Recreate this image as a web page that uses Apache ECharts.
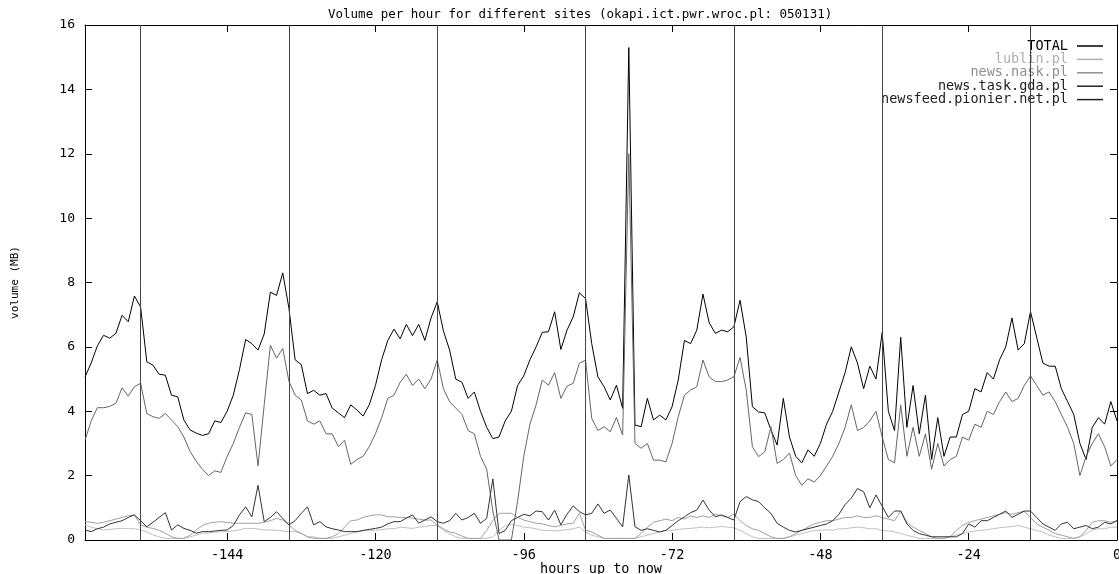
<!DOCTYPE html>
<html>
<head>
<meta charset="utf-8">
<script src="https://cdn.jsdelivr.net/npm/echarts@6/dist/echarts.min.js"></script>
<style>
  html, body { margin: 0; padding: 0; background: #fff; }
  #chart { width: 1119px; height: 574px; }
</style>
</head>
<body>
<div id="chart"></div>
<script>
// hours up to now, one point per hour from -167 to 0
const hours = Array.from({ length: 168 }, (_, i) => i - 167);
const xTicks = [-144, -120, -96, -72, -48, -24, 0];
const dayLines = [-158, -134, -110, -86, -62, -38, -14];

const total = [
  5.06, 5.5, 6.03, 6.36, 6.27, 6.42, 6.98, 6.78, 7.58, 7.24,
  5.54, 5.43, 5.15, 5.12, 4.5, 4.45, 3.73, 3.42, 3.32, 3.25,
  3.3, 3.7, 3.65, 4.0, 4.5, 5.3, 6.23, 6.1, 5.9, 6.4,
  7.7, 7.6, 8.3, 7.2, 5.6, 5.45, 4.55, 4.65, 4.5, 4.55,
  4.1, 3.95, 3.8, 4.2, 4.04, 3.85, 4.2, 4.8, 5.6, 6.2,
  6.55, 6.25, 6.7, 6.35, 6.7, 6.2, 6.9, 7.4, 6.5, 5.9,
  5.0, 4.9, 4.4, 4.6, 4.0, 3.5, 3.15, 3.2, 3.7, 4.0,
  4.8, 5.1, 5.6, 6.0, 6.45, 6.47, 7.09, 5.92, 6.52, 6.93,
  7.68, 7.5, 6.1, 5.07, 4.76, 4.35, 4.81, 4.09, 15.3, 3.57,
  3.52, 4.4, 3.73, 3.88, 3.73, 4.14, 4.97, 6.2, 6.1, 6.52,
  7.64, 6.75, 6.42, 6.52, 6.47, 6.62, 7.45, 6.31, 4.14, 3.98,
  3.95, 3.42, 2.95, 4.4, 3.2, 2.6, 2.4, 2.8, 2.6, 3.0,
  3.6, 4.0, 4.6, 5.2, 6.0, 5.5, 4.7, 5.4, 5.0, 6.45,
  4.0, 3.4, 6.3, 3.5, 4.8, 3.3, 4.5, 2.5, 3.8, 2.6,
  3.2, 3.2, 3.9, 4.0, 4.7, 4.6, 5.2, 5.0, 5.6, 6.0,
  6.9, 5.9, 6.1, 7.1, 6.3, 5.5, 5.4, 5.4, 4.7, 4.3,
  3.9, 3.0, 2.5, 3.5, 3.8, 3.6, 4.3, 3.7
];

const lublin = [
  0.47, 0.4, 0.35, 0.31, 0.33, 0.35, 0.36, 0.36, 0.35, 0.31,
  0.25, 0.16, 0.1, 0.05, 0.05, 0.05, 0.05, 0.1, 0.15, 0.21,
  0.22, 0.24, 0.26, 0.26, 0.28, 0.32, 0.36, 0.36, 0.34, 0.31,
  0.31, 0.3, 0.28, 0.26, 0.26, 0.2, 0.1, 0.1, 0.05, 0.05,
  0.05, 0.1, 0.15, 0.2, 0.25, 0.28, 0.3, 0.3, 0.32, 0.35,
  0.35, 0.4, 0.38, 0.36, 0.4, 0.42, 0.45, 0.45, 0.3, 0.2,
  0.1, 0.05, 0.05, 0.05, 0.05, 0.05, 0.1, 0.3, 0.45, 0.5,
  0.45, 0.4, 0.38, 0.35, 0.3, 0.3, 0.28, 0.3, 0.32, 0.35,
  0.4, 0.25, 0.15, 0.1, 0.05, 0.05, 0.05, 0.05, 0.05, 0.05,
  0.1, 0.15, 0.2, 0.25, 0.3, 0.3, 0.33, 0.35, 0.36, 0.38,
  0.4, 0.38, 0.4, 0.42, 0.4, 0.38, 0.3, 0.2, 0.1, 0.05,
  0.05, 0.05, 0.05, 0.05, 0.1, 0.15, 0.2, 0.25, 0.3, 0.3,
  0.32, 0.3, 0.35, 0.35, 0.38, 0.4, 0.38, 0.35, 0.35, 0.3,
  0.28, 0.25, 0.2, 0.15, 0.1, 0.05, 0.05, 0.05, 0.05, 0.05,
  0.1, 0.15, 0.2, 0.25, 0.28, 0.3, 0.32, 0.35, 0.38, 0.4,
  0.42, 0.45, 0.4, 0.35, 0.3, 0.25, 0.15, 0.1, 0.05, 0.05,
  0.05, 0.1, 0.2, 0.3, 0.35, 0.35, 0.4, 0.4
];

const nask = [
  0.57, 0.55, 0.52, 0.55, 0.6, 0.65, 0.7, 0.75, 0.78, 0.47,
  0.4, 0.36, 0.3, 0.21, 0.1, 0.05, 0.05, 0.15, 0.31, 0.45,
  0.52, 0.55, 0.57, 0.55, 0.52, 0.52, 0.52, 0.52, 0.52, 0.55,
  0.6, 0.67, 0.62, 0.47, 0.3, 0.21, 0.1, 0.05, 0.05, 0.05,
  0.1, 0.2, 0.4, 0.6, 0.62, 0.7, 0.75, 0.78, 0.78, 0.72,
  0.72, 0.7, 0.7, 0.68, 0.65, 0.62, 0.62, 0.47, 0.35, 0.25,
  0.21, 0.12, 0.05, 0.05, 0.05, 0.3, 0.6, 0.83, 0.83, 0.83,
  0.7, 0.62, 0.57, 0.52, 0.5, 0.45, 0.41, 0.45, 0.5, 0.52,
  0.83, 0.31, 0.25, 0.15, 0.05, 0.05, 0.05, 0.05, 0.05, 0.05,
  0.2, 0.4, 0.55, 0.6, 0.65, 0.6, 0.7, 0.65, 0.75, 0.7,
  0.75, 0.7, 0.8, 0.75, 0.7, 0.8, 0.6, 0.45, 0.35, 0.3,
  0.2, 0.1, 0.05, 0.05, 0.1, 0.2, 0.3, 0.4, 0.5, 0.55,
  0.6, 0.6, 0.65, 0.7, 0.7, 0.75, 0.7, 0.7, 0.75, 0.7,
  0.65, 0.6, 0.9, 0.55, 0.4, 0.3, 0.2, 0.1, 0.05, 0.05,
  0.1, 0.3, 0.45, 0.55, 0.6, 0.65, 0.7, 0.75, 0.8, 0.85,
  0.8, 0.85, 0.9, 0.7, 0.5, 0.4, 0.3, 0.2, 0.15, 0.1,
  0.05, 0.1, 0.3, 0.55, 0.6, 0.6, 0.55, 0.6
];

const taskGda = [
  3.1, 3.7, 4.11, 4.11, 4.15, 4.25, 4.73, 4.47, 4.76, 4.87,
  3.93, 3.83, 3.78, 3.93, 3.73, 3.52, 3.2, 2.75, 2.45, 2.2,
  2.0, 2.15, 2.1, 2.6, 3.0, 3.5, 3.95, 3.9, 2.3, 4.2,
  6.05, 5.65, 5.95, 4.93, 4.5, 4.35, 3.7, 3.6, 3.7, 3.3,
  3.3, 2.9, 3.1, 2.35, 2.5, 2.6, 2.9, 3.3, 3.8, 4.4,
  4.5, 4.9, 5.15, 4.8, 5.0, 4.7, 5.0, 5.6, 4.7, 4.3,
  4.1, 3.9, 3.4, 3.3, 2.6, 2.2, 0.9, 0.0, 0.0, 0.0,
  1.2, 2.6, 3.6, 4.2, 4.97, 4.81, 5.2, 4.4, 4.78, 4.87,
  5.49, 5.59, 3.78, 3.4, 3.52, 3.36, 3.81, 3.26, 12.0, 3.0,
  2.85, 3.0, 2.48, 2.48, 2.43, 3.0, 3.83, 4.5, 4.66, 4.76,
  5.59, 5.07, 4.92, 4.92, 4.97, 5.07, 5.67, 4.66, 2.9, 2.59,
  2.74, 3.52, 2.38, 2.5, 2.7, 2.0, 1.7, 1.9, 1.8, 2.0,
  2.3, 2.6, 3.0, 3.5, 4.2, 3.4, 3.5, 3.7, 4.0, 3.2,
  2.5, 2.4, 4.2, 2.6, 3.5, 2.6, 3.3, 2.2, 3.0, 2.3,
  2.5, 2.6, 3.2, 3.1, 3.6, 3.5, 4.0, 3.9, 4.3, 4.6,
  4.3, 4.4, 4.8, 5.1, 4.8, 4.5, 4.6, 4.3, 3.9, 3.5,
  3.0, 2.0, 2.6, 3.0, 3.3, 2.9, 2.3, 2.5
];

const pionier = [
  0.31, 0.26, 0.35, 0.4, 0.5, 0.55, 0.6, 0.7, 0.78, 0.6,
  0.41, 0.55, 0.7, 0.85, 0.31, 0.47, 0.36, 0.3, 0.21, 0.26,
  0.26, 0.28, 0.3, 0.31, 0.45, 0.78, 1.03, 0.72, 1.7, 0.57,
  0.7, 0.88, 0.67, 0.47, 0.6, 0.83, 1.03, 0.47, 0.57, 0.41,
  0.35, 0.31, 0.26, 0.26, 0.26, 0.3, 0.33, 0.36, 0.4, 0.5,
  0.57, 0.57, 0.68, 0.78, 0.52, 0.62, 0.72, 0.57, 0.52, 0.6,
  0.83, 0.62, 0.7, 0.83, 0.52, 0.67, 1.9, 0.2, 0.3, 0.6,
  0.7, 0.8, 0.75, 0.9, 0.88, 0.62, 0.93, 0.47, 0.8, 1.06,
  0.88, 0.78, 0.83, 1.12, 0.83, 0.93, 0.67, 0.41, 2.02, 0.41,
  0.3, 0.35, 0.3, 0.25, 0.3, 0.45, 0.6, 0.72, 0.85, 0.93,
  1.24, 0.93, 0.72, 0.78, 0.7, 0.62, 1.19, 1.35, 1.25, 1.19,
  1.0, 0.83, 0.52, 0.4, 0.3, 0.25, 0.3, 0.35, 0.4, 0.45,
  0.5, 0.6, 0.8, 1.1, 1.3, 1.6, 1.5, 1.0, 1.4, 1.05,
  0.7, 0.9, 0.9, 0.5, 0.3, 0.2, 0.15, 0.1, 0.1, 0.1,
  0.1, 0.1, 0.2, 0.5, 0.4, 0.6, 0.6, 0.7, 0.8, 0.9,
  0.7, 0.8, 0.9, 0.9, 0.7, 0.5, 0.4, 0.3, 0.5, 0.55,
  0.35, 0.4, 0.45, 0.35, 0.4, 0.55, 0.5, 0.6
];

const FONT = 'DejaVu Sans Mono';
const chart = echarts.init(document.getElementById('chart'));

const pairs = vals => vals.map((v, i) => [hours[i], v]);
const line = (name, vals, color) => ({
  name,
  type: 'line',
  data: pairs(vals),
  symbol: 'none',
  lineStyle: { color, width: 1 },
  itemStyle: { color },
  animation: false,
});

const seriesList = [
  line('TOTAL', total, '#000000'),
  line('lublin.pl', lublin, '#c0c0c0'),
  line('news.nask.pl', nask, '#a0a0a0'),
  line('news.task.gda.pl', taskGda, '#666666'),
  line('newsfeed.pionier.net.pl', pionier, '#333333'),
];
seriesList[0].markLine = {
  silent: true,
  symbol: 'none',
  label: { show: false },
  lineStyle: { color: '#444', width: 1, type: 'solid' },
  data: dayLines.map(v => ({ xAxis: v })),
};

const legendColors = ['#000', '#b0b0b0', '#909090', '#222', '#222'];

chart.setOption({
  animation: false,
  backgroundColor: '#fff',
  title: {
    text: 'Volume per hour for different sites (okapi.ict.pwr.wroc.pl: 050131)',
    left: 323,
    top: 3,
    textStyle: { fontFamily: FONT, fontSize: 12.5, fontWeight: 'normal', color: '#000' },
  },
  legend: {
    orient: 'vertical',
    right: 11,
    top: 34,
    align: 'right',
    icon: 'rect',
    itemWidth: 26,
    itemHeight: 1.5,
    itemGap: -0.6,
    data: seriesList.map((s, i) => ({
      name: s.name,
      textStyle: { color: legendColors[i] },
      itemStyle: { color: legendColors[i] },
    })),
    textStyle: { fontFamily: FONT, fontSize: 13.5, padding: [0, 4, 0, 0] },
  },
  grid: { left: 85, right: 2, top: 25, bottom: 34, outerBoundsMode: 'none' },
  xAxis: [
    {
      type: 'value',
      min: -167,
      max: 0,
      name: 'hours up to now',
      nameLocation: 'middle',
      nameGap: 22,
      nameMoveOverlap: false,
      nameTextStyle: { fontFamily: FONT, fontSize: 13.5, color: '#000' },
      axisLine: { show: true, onZero: false, lineStyle: { color: '#000', width: 1 } },
      axisTick: { show: true, inside: true, length: 7, customValues: xTicks, lineStyle: { color: '#000' } },
      axisLabel: { customValues: xTicks, fontFamily: FONT, fontSize: 13.5, color: '#000', margin: 8 },
      splitLine: { show: false },
    },
    {
      type: 'value',
      position: 'top',
      min: -167,
      max: 0,
      axisLine: { show: true, onZero: false, lineStyle: { color: '#000', width: 1 } },
      axisTick: { show: true, inside: true, length: 7, customValues: xTicks, lineStyle: { color: '#000' } },
      axisLabel: { show: false, customValues: xTicks },
      splitLine: { show: false },
    },
  ],
  yAxis: [
    {
      type: 'value',
      min: 0,
      max: 16,
      interval: 2,
      name: 'volume (MB)',
      nameLocation: 'middle',
      nameRotate: 90,
      nameGap: 64,
      nameMoveOverlap: false,
      nameTextStyle: { fontFamily: FONT, fontSize: 11, color: '#000' },
      axisLine: { show: true, onZero: false, lineStyle: { color: '#000', width: 1 } },
      axisTick: { show: true, inside: true, length: 7, lineStyle: { color: '#000' } },
      axisLabel: { fontFamily: FONT, fontSize: 13, color: '#000', margin: 10 },
      splitLine: { show: false },
    },
    {
      type: 'value',
      position: 'right',
      min: 0,
      max: 16,
      interval: 2,
      axisLine: { show: true, onZero: false, lineStyle: { color: '#000', width: 1 } },
      axisTick: { show: true, inside: true, length: 7, lineStyle: { color: '#000' } },
      axisLabel: { show: false },
      splitLine: { show: false },
    },
  ],
  series: seriesList,
});

window.addEventListener('resize', () => chart.resize());
</script>
</body>
</html>
